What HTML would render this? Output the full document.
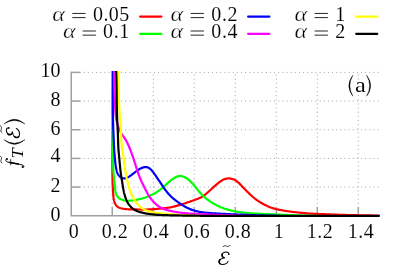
<!DOCTYPE html>
<html><head><meta charset="utf-8"><title>plot</title>
<style>html,body{margin:0;padding:0;background:#fff}body{width:407px;height:271px;position:relative;overflow:hidden;font-family:"Liberation Serif",serif}</style></head>
<body>
<svg width="407" height="271" viewBox="0 0 407 271" style="position:absolute;left:0;top:0;will-change:transform">
<g stroke="#a0a0a0" stroke-width="1" stroke-dasharray="1 3.14" fill="none"><line x1="71.24" y1="187.08" x2="379.31" y2="187.08"/><line x1="71.24" y1="158.41" x2="379.31" y2="158.41"/><line x1="71.24" y1="129.74" x2="379.31" y2="129.74"/><line x1="71.24" y1="101.07" x2="379.31" y2="101.07"/><line x1="71.24" y1="72.40" x2="379.31" y2="72.40"/><line x1="112.26" y1="216.25" x2="112.26" y2="71.90"/><line x1="153.27" y1="216.25" x2="153.27" y2="71.90"/><line x1="194.27" y1="216.25" x2="194.27" y2="71.90"/><line x1="235.28" y1="216.25" x2="235.28" y2="71.90"/><line x1="276.29" y1="216.25" x2="276.29" y2="71.90"/><line x1="317.30" y1="216.25" x2="317.30" y2="71.90"/><line x1="358.31" y1="216.25" x2="358.31" y2="71.90"/></g>
<g stroke="#a0a0a0" stroke-width="1.5" fill="none"><path d="M71.25 71.65 V215.75 H379.56"/><path d="M71.25 187.08 H80.40"/><path d="M71.25 158.41 H80.40"/><path d="M71.25 129.74 H80.40"/><path d="M71.25 101.07 H80.40"/><path d="M71.25 72.40 H80.40"/><path d="M112.26 215.75 V207.10"/><path d="M153.27 215.75 V207.10"/><path d="M194.27 215.75 V207.10"/><path d="M235.28 215.75 V207.10"/><path d="M276.29 215.75 V207.10"/><path d="M317.30 215.75 V207.10"/><path d="M358.31 215.75 V207.10"/></g>
<clipPath id="c"><rect x="60" y="71.10" width="330" height="160"/></clipPath>
<g clip-path="url(#c)" fill="none" stroke-width="2.20" stroke-linejoin="round" stroke-linecap="round"><path d="M113.00 70.00 L113.00 73.34 L112.99 76.58 L112.99 79.73 L112.98 82.79 L112.97 85.76 L112.96 88.66 L112.96 91.46 L112.94 94.19 L112.93 96.84 L112.92 99.41 L112.91 101.91 L112.90 104.34 L112.88 106.69 L112.87 108.98 L112.85 111.20 L112.84 113.36 L112.82 115.45 L112.80 117.49 L112.79 119.46 L112.77 121.38 L112.75 123.25 L112.74 125.06 L112.72 126.82 L112.70 128.54 L112.68 130.20 L112.67 131.83 L112.65 133.41 L112.63 134.95 L112.61 136.46 L112.60 137.93 L112.58 139.36 L112.56 140.76 L112.55 142.13 L112.53 143.48 L112.52 144.80 L112.50 146.09 L112.49 147.36 L112.48 148.62 L112.46 149.85 L112.45 151.07 L112.44 152.28 L112.43 153.47 L112.42 154.66 L112.41 155.83 L112.40 157.00 L112.40 158.17 L112.39 159.34 L112.39 160.50 L112.39 161.67 L112.38 162.85 L112.38 164.04 L112.38 165.24 L112.39 166.46 L112.39 167.70 L112.39 168.96 L112.40 170.26 L112.41 171.58 L112.42 172.93 L112.43 174.30 L112.45 175.69 L112.47 177.07 L112.49 178.46 L112.52 179.84 L112.55 181.22 L112.59 182.57 L112.64 183.90 L112.69 185.19 L112.75 186.46 L112.81 187.69 L112.88 188.89 L112.94 190.04 L113.01 191.15 L113.07 192.21 L113.14 193.21 L113.20 194.17 L113.27 195.09 L113.34 195.97 L113.43 196.83 L113.53 197.67 L113.65 198.50 L113.80 199.33 L113.97 200.16 L114.18 200.96 L114.41 201.75 L114.67 202.51 L114.97 203.25 L115.31 203.95 L115.69 204.61 L116.10 205.22 L116.56 205.79 L117.07 206.30 L117.62 206.75 L118.21 207.15 L118.84 207.50 L119.52 207.81 L120.22 208.07 L120.96 208.29 L121.72 208.49 L122.52 208.65 L123.33 208.79 L124.16 208.91 L125.02 209.01 L125.89 209.10 L126.77 209.17 L127.66 209.23 L128.57 209.28 L129.49 209.32 L130.42 209.35 L131.35 209.38 L132.29 209.40 L133.23 209.41 L134.18 209.43 L135.13 209.44 L136.08 209.45 L137.03 209.46 L137.98 209.48 L138.93 209.49 L139.88 209.50 L140.82 209.52 L141.77 209.53 L142.72 209.53 L143.67 209.54 L144.61 209.54 L145.56 209.53 L146.51 209.52 L147.47 209.50 L148.42 209.47 L149.38 209.43 L150.33 209.39 L151.29 209.34 L152.24 209.28 L153.19 209.22 L154.14 209.15 L155.08 209.08 L156.01 209.00 L156.94 208.92 L157.85 208.84 L158.76 208.76 L159.65 208.68 L160.53 208.60 L161.39 208.51 L162.24 208.43 L163.08 208.35 L163.90 208.27 L164.72 208.18 L165.54 208.09 L166.35 207.99 L167.16 207.88 L167.97 207.76 L168.79 207.63 L169.61 207.49 L170.44 207.34 L171.27 207.17 L172.12 206.99 L172.97 206.80 L173.83 206.60 L174.70 206.38 L175.57 206.16 L176.44 205.92 L177.32 205.68 L178.21 205.43 L179.10 205.16 L179.99 204.90 L180.88 204.62 L181.77 204.34 L182.66 204.06 L183.56 203.77 L184.45 203.47 L185.34 203.18 L186.23 202.88 L187.12 202.58 L188.00 202.27 L188.89 201.97 L189.76 201.67 L190.63 201.36 L191.50 201.06 L192.36 200.76 L193.22 200.47 L194.06 200.17 L194.90 199.88 L195.72 199.58 L196.53 199.28 L197.32 198.97 L198.10 198.66 L198.85 198.35 L199.59 198.02 L200.30 197.69 L200.99 197.34 L201.65 196.98 L202.29 196.61 L202.90 196.23 L203.49 195.84 L204.07 195.43 L204.63 195.01 L205.18 194.58 L205.73 194.14 L206.27 193.68 L206.81 193.22 L207.35 192.75 L207.90 192.26 L208.45 191.77 L209.00 191.27 L209.56 190.77 L210.12 190.26 L210.68 189.74 L211.24 189.22 L211.81 188.70 L212.38 188.17 L212.95 187.65 L213.53 187.13 L214.10 186.60 L214.68 186.08 L215.26 185.57 L215.83 185.05 L216.41 184.55 L217.00 184.05 L217.58 183.56 L218.16 183.08 L218.75 182.61 L219.34 182.16 L219.94 181.72 L220.54 181.31 L221.14 180.91 L221.75 180.54 L222.36 180.18 L222.98 179.86 L223.61 179.56 L224.24 179.30 L224.88 179.06 L225.52 178.86 L226.18 178.69 L226.84 178.57 L227.52 178.48 L228.20 178.43 L228.89 178.42 L229.60 178.46 L230.30 178.54 L231.01 178.66 L231.71 178.81 L232.41 179.01 L233.11 179.25 L233.79 179.52 L234.45 179.82 L235.10 180.16 L235.73 180.54 L236.33 180.94 L236.92 181.37 L237.50 181.83 L238.07 182.31 L238.62 182.81 L239.17 183.32 L239.71 183.85 L240.24 184.39 L240.78 184.94 L241.32 185.50 L241.86 186.06 L242.40 186.62 L242.94 187.18 L243.48 187.75 L244.03 188.32 L244.58 188.89 L245.12 189.46 L245.68 190.03 L246.23 190.59 L246.78 191.16 L247.34 191.72 L247.90 192.28 L248.46 192.83 L249.02 193.38 L249.58 193.93 L250.15 194.46 L250.71 194.99 L251.28 195.52 L251.85 196.03 L252.42 196.54 L253.00 197.03 L253.57 197.52 L254.15 197.99 L254.73 198.46 L255.31 198.91 L255.90 199.35 L256.49 199.79 L257.08 200.22 L257.67 200.63 L258.27 201.04 L258.87 201.44 L259.48 201.83 L260.09 202.21 L260.70 202.59 L261.32 202.96 L261.94 203.32 L262.57 203.67 L263.20 204.01 L263.84 204.35 L264.47 204.68 L265.11 205.00 L265.75 205.32 L266.39 205.62 L267.02 205.92 L267.65 206.20 L268.28 206.48 L268.90 206.74 L269.51 207.00 L270.13 207.24 L270.76 207.48 L271.41 207.72 L272.07 207.94 L272.75 208.16 L273.46 208.38 L274.21 208.59 L274.99 208.80 L275.81 209.01 L276.67 209.21 L277.56 209.41 L278.47 209.61 L279.41 209.80 L280.36 209.99 L281.33 210.17 L282.30 210.35 L283.27 210.52 L284.24 210.69 L285.20 210.85 L286.15 211.00 L287.09 211.14 L288.00 211.28 L288.90 211.40 L289.79 211.53 L290.68 211.64 L291.56 211.75 L292.45 211.86 L293.36 211.97 L294.28 212.07 L295.22 212.18 L296.19 212.28 L297.20 212.38 L298.24 212.49 L299.32 212.60 L300.46 212.71 L301.63 212.83 L302.83 212.94 L304.06 213.06 L305.30 213.17 L306.55 213.28 L307.80 213.39 L309.05 213.48 L310.27 213.57 L311.48 213.65 L312.67 213.72 L313.87 213.79 L315.07 213.85 L316.28 213.90 L317.51 213.96 L318.78 214.01 L320.08 214.06 L321.43 214.11 L322.82 214.16 L324.25 214.22 L325.70 214.27 L327.17 214.32 L328.66 214.38 L330.15 214.43 L331.65 214.48 L333.14 214.53 L334.61 214.58 L336.07 214.63 L337.50 214.68 L338.92 214.73 L340.32 214.77 L341.70 214.82 L343.07 214.86 L344.43 214.90 L345.78 214.94 L347.12 214.98 L348.45 215.02 L349.78 215.05 L351.10 215.09 L352.41 215.12 L353.71 215.15 L355.01 215.19 L356.30 215.21 L357.58 215.24 L358.85 215.27 L360.11 215.29 L361.36 215.32 L362.60 215.34 L363.84 215.36 L365.06 215.38 L366.27 215.40 L367.47 215.42 L368.66 215.44 L369.84 215.45 L371.00 215.47 L372.15 215.48 L373.29 215.50 L374.42 215.51 L375.53 215.52 L376.63 215.53 L377.72 215.54 L378.79 215.55 L378.79 215.55" stroke="#ff0000"/><path d="M112.95 70.00 L112.95 71.32 L112.95 72.66 L112.95 74.01 L112.94 75.37 L112.93 76.73 L112.92 78.10 L112.91 79.48 L112.89 80.86 L112.88 82.24 L112.86 83.62 L112.84 85.00 L112.82 86.37 L112.80 87.74 L112.78 89.10 L112.76 90.45 L112.74 91.80 L112.73 93.13 L112.71 94.45 L112.69 95.76 L112.67 97.05 L112.66 98.32 L112.64 99.57 L112.63 100.80 L112.62 102.01 L112.61 103.19 L112.60 104.35 L112.59 105.49 L112.59 106.61 L112.59 107.73 L112.59 108.85 L112.59 109.99 L112.59 111.15 L112.59 112.34 L112.59 113.58 L112.60 114.86 L112.60 116.21 L112.60 117.63 L112.60 119.13 L112.60 120.70 L112.60 122.33 L112.60 124.01 L112.59 125.73 L112.59 127.46 L112.59 129.20 L112.59 130.94 L112.59 132.66 L112.59 134.34 L112.59 135.98 L112.59 137.57 L112.59 139.08 L112.59 140.51 L112.60 141.84 L112.60 143.06 L112.61 144.16 L112.62 145.16 L112.63 146.08 L112.64 146.93 L112.65 147.73 L112.67 148.50 L112.68 149.26 L112.70 150.03 L112.72 150.81 L112.74 151.62 L112.76 152.45 L112.78 153.31 L112.80 154.21 L112.83 155.13 L112.85 156.09 L112.88 157.08 L112.90 158.11 L112.93 159.18 L112.95 160.27 L112.98 161.39 L113.01 162.52 L113.04 163.66 L113.08 164.79 L113.12 165.93 L113.16 167.04 L113.21 168.14 L113.26 169.20 L113.32 170.23 L113.38 171.22 L113.45 172.17 L113.53 173.11 L113.61 174.02 L113.69 174.93 L113.78 175.84 L113.87 176.75 L113.96 177.67 L114.06 178.62 L114.16 179.59 L114.26 180.57 L114.35 181.55 L114.45 182.53 L114.55 183.49 L114.65 184.42 L114.74 185.33 L114.82 186.19 L114.91 186.99 L114.98 187.75 L115.06 188.45 L115.13 189.11 L115.21 189.74 L115.29 190.34 L115.38 190.92 L115.49 191.49 L115.60 192.06 L115.74 192.61 L115.88 193.15 L116.05 193.68 L116.24 194.20 L116.44 194.70 L116.67 195.19 L116.92 195.66 L117.20 196.12 L117.50 196.56 L117.84 196.98 L118.20 197.38 L118.59 197.76 L119.02 198.12 L119.48 198.46 L119.97 198.77 L120.50 199.06 L121.06 199.33 L121.64 199.58 L122.24 199.80 L122.86 200.00 L123.48 200.18 L124.12 200.33 L124.76 200.46 L125.41 200.57 L126.04 200.66 L126.67 200.72 L127.29 200.76 L127.91 200.78 L128.52 200.78 L129.13 200.76 L129.76 200.72 L130.41 200.68 L131.09 200.62 L131.79 200.55 L132.51 200.47 L133.25 200.37 L134.01 200.27 L134.78 200.15 L135.57 200.02 L136.36 199.87 L137.16 199.71 L137.96 199.54 L138.77 199.36 L139.59 199.16 L140.40 198.95 L141.22 198.73 L142.04 198.50 L142.85 198.26 L143.67 198.00 L144.48 197.74 L145.29 197.47 L146.09 197.18 L146.89 196.89 L147.68 196.59 L148.46 196.28 L149.24 195.96 L150.00 195.64 L150.75 195.30 L151.49 194.96 L152.22 194.62 L152.93 194.26 L153.63 193.90 L154.30 193.54 L154.97 193.17 L155.61 192.79 L156.24 192.41 L156.85 192.03 L157.44 191.64 L158.03 191.25 L158.59 190.85 L159.15 190.45 L159.69 190.04 L160.23 189.63 L160.75 189.22 L161.27 188.80 L161.77 188.38 L162.28 187.96 L162.77 187.54 L163.26 187.11 L163.75 186.68 L164.23 186.25 L164.71 185.81 L165.19 185.38 L165.67 184.94 L166.15 184.50 L166.62 184.06 L167.10 183.62 L167.58 183.19 L168.06 182.75 L168.54 182.32 L169.03 181.90 L169.51 181.48 L170.00 181.07 L170.49 180.67 L170.98 180.27 L171.48 179.88 L171.98 179.51 L172.48 179.14 L172.98 178.79 L173.49 178.45 L174.01 178.13 L174.53 177.82 L175.05 177.53 L175.58 177.25 L176.11 177.00 L176.64 176.77 L177.18 176.56 L177.72 176.39 L178.26 176.24 L178.80 176.13 L179.34 176.05 L179.88 176.01 L180.42 176.01 L180.96 176.05 L181.50 176.12 L182.03 176.23 L182.56 176.37 L183.08 176.53 L183.60 176.72 L184.11 176.94 L184.62 177.17 L185.11 177.42 L185.60 177.69 L186.08 177.96 L186.55 178.25 L187.01 178.55 L187.46 178.86 L187.91 179.19 L188.35 179.52 L188.79 179.87 L189.22 180.23 L189.64 180.61 L190.07 180.99 L190.49 181.39 L190.90 181.81 L191.32 182.23 L191.74 182.67 L192.15 183.13 L192.57 183.59 L192.98 184.08 L193.40 184.57 L193.83 185.08 L194.25 185.60 L194.68 186.13 L195.11 186.67 L195.55 187.23 L195.99 187.78 L196.44 188.35 L196.90 188.92 L197.36 189.50 L197.84 190.08 L198.32 190.67 L198.81 191.25 L199.31 191.84 L199.82 192.43 L200.34 193.02 L200.87 193.60 L201.42 194.18 L201.98 194.76 L202.55 195.34 L203.13 195.90 L203.73 196.47 L204.35 197.02 L204.98 197.57 L205.62 198.11 L206.27 198.64 L206.94 199.16 L207.61 199.68 L208.30 200.18 L208.99 200.68 L209.70 201.17 L210.41 201.65 L211.13 202.12 L211.86 202.58 L212.60 203.03 L213.34 203.47 L214.09 203.90 L214.84 204.31 L215.59 204.72 L216.35 205.12 L217.11 205.50 L217.87 205.87 L218.63 206.23 L219.40 206.58 L220.16 206.92 L220.92 207.24 L221.69 207.55 L222.45 207.85 L223.21 208.14 L223.96 208.41 L224.72 208.67 L225.48 208.93 L226.23 209.17 L226.99 209.40 L227.74 209.62 L228.49 209.83 L229.24 210.03 L229.99 210.22 L230.74 210.41 L231.48 210.59 L232.23 210.75 L232.97 210.92 L233.72 211.07 L234.46 211.22 L235.20 211.36 L235.95 211.50 L236.69 211.63 L237.43 211.75 L238.17 211.87 L238.91 211.99 L239.64 212.10 L240.38 212.21 L241.12 212.31 L241.86 212.41 L242.60 212.51 L243.34 212.60 L244.09 212.69 L244.83 212.77 L245.58 212.85 L246.33 212.93 L247.08 213.00 L247.84 213.07 L248.60 213.14 L249.36 213.20 L250.13 213.26 L250.90 213.32 L251.68 213.37 L252.46 213.42 L253.25 213.47 L254.04 213.52 L254.84 213.56 L255.65 213.60 L256.48 213.64 L257.32 213.68 L258.18 213.72 L259.07 213.76 L259.99 213.80 L260.95 213.84 L261.94 213.88 L262.98 213.93 L264.06 213.98 L265.17 214.03 L266.32 214.08 L267.48 214.13 L268.66 214.18 L269.86 214.23 L271.06 214.28 L272.26 214.34 L273.46 214.39 L274.65 214.44 L275.82 214.49 L276.98 214.54 L278.13 214.59 L279.26 214.63 L280.39 214.68 L281.50 214.72 L282.61 214.77 L283.71 214.81 L284.81 214.86 L285.91 214.90 L287.01 214.94 L288.11 214.99 L289.21 215.03 L290.31 215.08 L291.41 215.12 L292.52 215.16 L293.62 215.21 L294.72 215.25 L295.82 215.29 L296.92 215.33 L298.02 215.37 L299.12 215.41 L300.21 215.45 L301.30 215.49 L302.39 215.52 L303.47 215.56 L304.55 215.59 L305.63 215.63 L306.70 215.66 L307.76 215.69 L308.82 215.72 L309.87 215.74 L310.92 215.77 L311.96 215.79 L312.99 215.81 L314.02 215.83 L315.04 215.85 L316.04 215.86 L317.05 215.88 L318.04 215.89 L319.02 215.90 L319.99 215.90 L319.99 215.90" stroke="#00ff00"/><path d="M112.75 70.00 L112.76 71.27 L112.77 72.56 L112.77 73.87 L112.78 75.20 L112.78 76.54 L112.79 77.90 L112.79 79.28 L112.79 80.67 L112.80 82.07 L112.80 83.48 L112.80 84.90 L112.80 86.33 L112.80 87.76 L112.80 89.20 L112.80 90.64 L112.80 92.08 L112.81 93.51 L112.81 94.95 L112.81 96.39 L112.81 97.82 L112.82 99.24 L112.82 100.65 L112.82 102.06 L112.83 103.46 L112.83 104.84 L112.84 106.21 L112.85 107.56 L112.86 108.90 L112.87 110.22 L112.88 111.52 L112.89 112.79 L112.91 114.05 L112.92 115.28 L112.94 116.49 L112.96 117.66 L112.98 118.81 L113.01 119.94 L113.03 121.03 L113.06 122.10 L113.09 123.14 L113.11 124.15 L113.14 125.15 L113.18 126.12 L113.21 127.06 L113.24 127.99 L113.27 128.89 L113.31 129.78 L113.34 130.64 L113.38 131.49 L113.41 132.32 L113.45 133.14 L113.48 133.94 L113.52 134.72 L113.55 135.49 L113.58 136.25 L113.62 137.00 L113.65 137.74 L113.68 138.47 L113.71 139.18 L113.74 139.89 L113.77 140.59 L113.80 141.29 L113.82 141.97 L113.85 142.65 L113.88 143.32 L113.91 143.99 L113.93 144.65 L113.96 145.30 L113.99 145.95 L114.02 146.59 L114.05 147.23 L114.09 147.86 L114.12 148.49 L114.16 149.12 L114.19 149.75 L114.23 150.37 L114.27 150.99 L114.32 151.61 L114.36 152.25 L114.41 152.90 L114.47 153.58 L114.53 154.28 L114.59 155.01 L114.65 155.77 L114.73 156.58 L114.80 157.43 L114.88 158.30 L114.97 159.19 L115.05 160.09 L115.15 161.00 L115.24 161.90 L115.34 162.79 L115.44 163.65 L115.54 164.48 L115.64 165.27 L115.74 166.01 L115.85 166.70 L115.95 167.34 L116.06 167.94 L116.17 168.51 L116.28 169.05 L116.39 169.56 L116.51 170.06 L116.62 170.54 L116.74 171.01 L116.87 171.48 L117.01 171.93 L117.16 172.37 L117.32 172.81 L117.50 173.24 L117.71 173.66 L117.93 174.07 L118.16 174.47 L118.42 174.86 L118.69 175.24 L118.97 175.60 L119.26 175.95 L119.57 176.28 L119.89 176.59 L120.22 176.88 L120.55 177.15 L120.90 177.40 L121.25 177.63 L121.60 177.83 L121.96 178.00 L122.32 178.15 L122.68 178.27 L123.05 178.36 L123.41 178.42 L123.78 178.45 L124.15 178.46 L124.51 178.45 L124.88 178.41 L125.26 178.35 L125.63 178.26 L126.00 178.16 L126.38 178.03 L126.75 177.89 L127.13 177.73 L127.51 177.55 L127.89 177.36 L128.27 177.15 L128.65 176.93 L129.03 176.69 L129.42 176.45 L129.80 176.19 L130.19 175.92 L130.57 175.65 L130.96 175.36 L131.35 175.07 L131.74 174.78 L132.13 174.47 L132.52 174.17 L132.91 173.86 L133.30 173.55 L133.69 173.24 L134.08 172.93 L134.48 172.62 L134.87 172.31 L135.27 172.01 L135.66 171.70 L136.06 171.41 L136.46 171.12 L136.85 170.83 L137.25 170.55 L137.65 170.28 L138.04 170.02 L138.44 169.76 L138.83 169.51 L139.23 169.27 L139.62 169.04 L140.01 168.82 L140.41 168.61 L140.80 168.41 L141.18 168.22 L141.57 168.05 L141.96 167.88 L142.34 167.73 L142.72 167.60 L143.10 167.48 L143.47 167.37 L143.85 167.28 L144.22 167.20 L144.59 167.14 L144.95 167.10 L145.31 167.07 L145.67 167.06 L146.03 167.07 L146.38 167.10 L146.72 167.15 L147.41 167.31 L147.74 167.42 L148.07 167.55 L148.40 167.70 L148.72 167.87 L149.04 168.06 L149.36 168.26 L149.67 168.48 L149.98 168.72 L150.28 168.98 L150.58 169.25 L150.88 169.53 L151.18 169.83 L151.48 170.14 L151.77 170.47 L152.06 170.80 L152.35 171.15 L152.64 171.50 L152.92 171.87 L153.21 172.25 L153.50 172.63 L153.79 173.03 L154.09 173.44 L154.39 173.85 L154.69 174.27 L154.99 174.70 L155.29 175.12 L155.59 175.54 L155.87 175.96 L156.15 176.37 L156.42 176.77 L156.69 177.18 L156.96 177.59 L157.25 178.03 L157.56 178.50 L157.91 179.00 L158.27 179.53 L158.65 180.08 L159.04 180.64 L159.43 181.21 L159.82 181.77 L160.19 182.31 L160.55 182.83 L160.87 183.32 L161.17 183.77 L161.44 184.19 L161.70 184.59 L161.96 184.99 L162.23 185.41 L162.52 185.86 L162.85 186.35 L163.20 186.87 L163.57 187.41 L163.96 187.98 L164.37 188.55 L164.79 189.14 L165.22 189.73 L165.65 190.30 L166.08 190.87 L166.50 191.42 L166.93 191.96 L167.35 192.48 L167.77 192.98 L168.19 193.48 L168.61 193.96 L169.04 194.42 L169.46 194.88 L169.88 195.32 L170.30 195.76 L170.73 196.18 L171.16 196.60 L171.59 197.01 L172.03 197.41 L172.46 197.81 L172.91 198.20 L173.36 198.58 L173.81 198.97 L174.28 199.35 L174.74 199.72 L175.22 200.10 L175.70 200.47 L176.19 200.84 L176.69 201.22 L177.20 201.59 L177.72 201.97 L178.25 202.35 L178.78 202.72 L179.32 203.10 L179.87 203.47 L180.43 203.84 L180.99 204.21 L181.56 204.57 L182.14 204.94 L182.72 205.29 L183.31 205.65 L183.90 206.00 L184.50 206.34 L185.10 206.68 L185.71 207.01 L186.32 207.33 L186.94 207.65 L187.56 207.95 L188.18 208.25 L188.81 208.54 L189.43 208.83 L190.07 209.10 L190.70 209.36 L191.33 209.61 L191.97 209.84 L192.61 210.07 L193.24 210.28 L193.88 210.48 L194.52 210.68 L195.16 210.86 L195.81 211.03 L196.45 211.19 L197.09 211.34 L197.74 211.48 L198.38 211.62 L199.03 211.74 L199.67 211.86 L200.32 211.97 L200.96 212.08 L201.61 212.17 L202.26 212.27 L202.91 212.35 L203.55 212.43 L204.20 212.51 L204.85 212.58 L205.49 212.65 L206.14 212.72 L206.79 212.78 L207.43 212.84 L208.08 212.89 L208.72 212.95 L209.37 213.00 L210.02 213.05 L210.66 213.10 L211.31 213.15 L211.97 213.20 L212.62 213.25 L213.29 213.30 L213.96 213.34 L214.63 213.39 L215.32 213.43 L216.01 213.47 L216.72 213.52 L217.43 213.56 L218.16 213.60 L218.90 213.64 L219.65 213.68 L220.42 213.72 L221.21 213.76 L222.01 213.80 L222.83 213.84 L223.67 213.89 L224.53 213.93 L225.40 213.97 L226.30 214.01 L227.23 214.05 L228.17 214.09 L229.14 214.14 L230.14 214.18 L231.16 214.23 L232.21 214.27 L233.29 214.32 L234.39 214.37 L235.51 214.41 L236.66 214.46 L237.82 214.51 L239.00 214.56 L240.19 214.61 L241.39 214.66 L242.60 214.71 L243.82 214.75 L245.04 214.80 L246.27 214.85 L247.49 214.90 L248.71 214.95 L249.92 214.99 L251.12 215.04 L252.32 215.08 L253.50 215.12 L254.67 215.17 L255.81 215.21 L256.94 215.25 L258.05 215.29 L259.13 215.32 L260.19 215.36 L261.22 215.39 L262.21 215.42 L263.17 215.45 L264.10 215.48 L264.98 215.50 L265.83 215.52 L266.65 215.54 L267.46 215.56 L268.28 215.58 L269.11 215.60 L269.98 215.62 L270.89 215.64 L271.88 215.67 L272.94 215.69 L274.10 215.72 L275.37 215.76 L276.77 215.80 L278.30 215.85 L280.00 215.90 L280.00 215.90" stroke="#0000ff"/><path d="M114.10 70.00 L114.09 70.55 L114.08 71.13 L114.08 71.72 L114.08 72.34 L114.08 72.98 L114.08 73.64 L114.08 74.32 L114.08 75.02 L114.09 75.74 L114.10 76.48 L114.11 77.23 L114.12 78.00 L114.14 78.79 L114.15 79.59 L114.17 80.40 L114.19 81.23 L114.21 82.07 L114.23 82.93 L114.25 83.79 L114.27 84.67 L114.30 85.55 L114.32 86.45 L114.35 87.35 L114.38 88.26 L114.41 89.18 L114.44 90.10 L114.47 91.03 L114.50 91.96 L114.54 92.90 L114.57 93.84 L114.60 94.78 L114.64 95.73 L114.67 96.67 L114.71 97.62 L114.75 98.57 L114.79 99.51 L114.82 100.45 L114.86 101.39 L114.90 102.33 L114.94 103.26 L114.98 104.19 L115.02 105.11 L115.06 106.02 L115.11 106.92 L115.15 107.81 L115.20 108.69 L115.25 109.55 L115.30 110.40 L115.35 111.23 L115.41 112.04 L115.47 112.83 L115.54 113.61 L115.60 114.35 L115.67 115.08 L115.75 115.78 L115.83 116.45 L115.91 117.09 L116.00 117.71 L116.10 118.29 L116.20 118.85 L116.30 119.38 L116.41 119.88 L116.52 120.37 L116.63 120.83 L116.75 121.29 L116.87 121.73 L116.99 122.17 L117.12 122.59 L117.24 123.02 L117.37 123.45 L117.50 123.88 L117.62 124.31 L117.75 124.74 L117.89 125.17 L118.02 125.60 L118.15 126.03 L118.29 126.46 L118.43 126.89 L118.57 127.31 L118.72 127.73 L118.86 128.15 L119.02 128.57 L119.17 128.98 L119.33 129.39 L119.49 129.79 L119.66 130.19 L119.83 130.58 L120.00 130.96 L120.18 131.34 L120.37 131.71 L120.56 132.07 L120.75 132.43 L120.95 132.78 L121.15 133.12 L121.36 133.45 L121.57 133.78 L121.78 134.11 L122.00 134.43 L122.21 134.74 L122.43 135.06 L122.65 135.37 L122.87 135.67 L123.09 135.98 L123.31 136.28 L123.53 136.58 L123.75 136.89 L123.96 137.19 L124.18 137.49 L124.39 137.80 L124.60 138.10 L124.80 138.41 L125.00 138.73 L125.20 139.04 L125.40 139.36 L125.60 139.68 L125.79 140.01 L125.99 140.35 L126.18 140.69 L126.38 141.04 L126.57 141.40 L126.76 141.77 L126.95 142.14 L127.15 142.52 L127.34 142.92 L127.54 143.32 L127.73 143.74 L127.93 144.17 L128.13 144.61 L128.34 145.07 L128.54 145.53 L128.75 146.01 L128.95 146.49 L129.16 146.98 L129.37 147.48 L129.57 147.98 L129.78 148.48 L129.98 148.98 L130.18 149.48 L130.38 149.98 L130.57 150.48 L130.76 150.97 L130.95 151.45 L131.13 151.93 L131.31 152.41 L131.49 152.88 L131.67 153.36 L131.84 153.84 L132.02 154.33 L132.20 154.82 L132.37 155.32 L132.55 155.83 L132.73 156.36 L132.91 156.90 L133.10 157.46 L133.29 158.03 L133.48 158.62 L133.68 159.23 L133.88 159.84 L134.08 160.47 L134.28 161.11 L134.49 161.76 L134.69 162.42 L134.90 163.09 L135.12 163.76 L135.33 164.44 L135.55 165.12 L135.76 165.81 L135.98 166.50 L136.20 167.19 L136.42 167.87 L136.65 168.56 L136.87 169.25 L137.09 169.93 L137.32 170.61 L137.54 171.28 L137.77 171.95 L138.00 172.61 L138.22 173.26 L138.45 173.90 L138.67 174.52 L138.90 175.14 L139.12 175.74 L139.35 176.33 L139.57 176.91 L139.79 177.47 L140.01 178.01 L140.23 178.53 L140.45 179.04 L140.67 179.53 L140.89 180.01 L141.11 180.48 L141.33 180.95 L141.55 181.41 L141.76 181.87 L141.98 182.32 L142.20 182.78 L142.42 183.24 L142.65 183.71 L142.87 184.18 L143.09 184.65 L143.32 185.13 L143.55 185.61 L143.77 186.09 L144.01 186.58 L144.24 187.07 L144.47 187.57 L144.71 188.06 L144.95 188.56 L145.20 189.05 L145.44 189.55 L145.69 190.05 L145.94 190.54 L146.20 191.04 L146.46 191.54 L146.72 192.03 L146.99 192.53 L147.26 193.02 L147.53 193.51 L147.81 193.99 L148.09 194.48 L148.38 194.96 L148.67 195.43 L148.97 195.90 L149.27 196.37 L149.58 196.83 L149.89 197.29 L150.20 197.74 L150.53 198.19 L150.85 198.63 L151.18 199.07 L151.52 199.50 L151.86 199.92 L152.20 200.34 L152.55 200.75 L152.91 201.15 L153.27 201.55 L153.63 201.94 L154.00 202.32 L154.37 202.70 L154.74 203.06 L155.12 203.42 L155.51 203.78 L155.89 204.12 L156.29 204.46 L156.68 204.78 L157.08 205.10 L157.49 205.41 L157.89 205.71 L158.31 206.01 L158.72 206.29 L159.14 206.56 L159.56 206.83 L159.98 207.08 L160.41 207.33 L160.84 207.56 L161.26 207.79 L161.69 208.01 L162.12 208.22 L162.55 208.43 L162.98 208.62 L163.40 208.81 L163.82 208.99 L164.24 209.16 L164.66 209.32 L165.08 209.47 L165.49 209.62 L165.89 209.76 L166.30 209.89 L166.69 210.01 L167.08 210.13 L167.47 210.24 L167.85 210.34 L168.22 210.44 L168.59 210.53 L168.96 210.62 L169.33 210.70 L169.71 210.78 L170.09 210.86 L170.48 210.94 L170.87 211.03 L171.28 211.11 L171.69 211.19 L172.11 211.28 L172.54 211.36 L172.98 211.45 L173.43 211.53 L173.88 211.61 L174.33 211.70 L174.79 211.78 L175.26 211.86 L175.73 211.95 L176.20 212.03 L176.68 212.10 L177.16 212.18 L177.64 212.26 L178.12 212.33 L178.60 212.40 L179.09 212.47 L179.58 212.54 L180.07 212.61 L180.56 212.68 L181.04 212.74 L181.53 212.80 L182.02 212.87 L182.51 212.92 L182.99 212.98 L183.48 213.03 L183.96 213.09 L184.44 213.14 L184.92 213.19 L185.39 213.23 L185.86 213.28 L186.33 213.32 L186.80 213.36 L187.26 213.39 L187.72 213.43 L188.18 213.46 L188.64 213.49 L189.11 213.52 L189.59 213.55 L190.07 213.58 L190.57 213.61 L191.08 213.64 L191.61 213.67 L192.15 213.70 L192.72 213.73 L193.30 213.77 L193.90 213.80 L194.52 213.84 L195.15 213.87 L195.81 213.91 L196.47 213.95 L197.16 213.98 L197.85 214.02 L198.56 214.06 L199.28 214.09 L200.02 214.13 L200.77 214.17 L201.52 214.21 L202.29 214.24 L203.07 214.28 L203.85 214.31 L204.65 214.35 L205.45 214.38 L206.26 214.42 L207.07 214.45 L207.89 214.48 L208.72 214.51 L209.55 214.55 L210.39 214.58 L211.23 214.61 L212.07 214.64 L212.92 214.67 L213.77 214.70 L214.62 214.73 L215.47 214.76 L216.32 214.79 L217.17 214.82 L218.03 214.85 L218.88 214.88 L219.73 214.90 L220.58 214.93 L221.43 214.96 L222.27 214.99 L223.11 215.02 L223.95 215.05 L224.78 215.08 L225.61 215.11 L226.43 215.14 L227.25 215.17 L228.06 215.20 L228.86 215.23 L229.66 215.26 L230.45 215.29 L231.23 215.32 L232.00 215.36 L232.76 215.39 L233.51 215.42 L234.25 215.46 L234.98 215.49 L235.69 215.53 L236.40 215.56 L237.10 215.60 L237.80 215.63 L238.50 215.66 L239.21 215.70 L239.91 215.73 L240.63 215.76 L241.36 215.79 L242.11 215.82 L242.87 215.84 L243.65 215.86 L244.46 215.88 L245.30 215.89 L246.16 215.90 L247.06 215.91 L248.00 215.91 L248.97 215.91 L249.99 215.90 L249.99 215.90" stroke="#ff00ff"/><path d="M118.10 69.99 L118.11 70.55 L118.12 71.14 L118.14 71.75 L118.15 72.40 L118.17 73.06 L118.18 73.76 L118.20 74.47 L118.22 75.21 L118.23 75.97 L118.25 76.75 L118.27 77.55 L118.29 78.37 L118.32 79.20 L118.34 80.05 L118.36 80.92 L118.38 81.80 L118.41 82.69 L118.44 83.60 L118.46 84.51 L118.49 85.44 L118.52 86.37 L118.55 87.31 L118.57 88.26 L118.60 89.22 L118.63 90.17 L118.67 91.14 L118.70 92.10 L118.73 93.06 L118.76 94.03 L118.80 95.00 L118.83 95.96 L118.87 96.92 L118.90 97.87 L118.94 98.83 L118.98 99.77 L119.01 100.71 L119.05 101.64 L119.09 102.56 L119.13 103.47 L119.17 104.37 L119.21 105.25 L119.25 106.12 L119.29 106.98 L119.33 107.82 L119.37 108.65 L119.41 109.46 L119.46 110.24 L119.50 111.01 L119.54 111.76 L119.59 112.49 L119.63 113.19 L119.68 113.87 L119.72 114.52 L119.77 115.15 L119.81 115.75 L119.86 116.32 L119.90 116.86 L119.95 117.37 L120.00 117.85 L120.05 118.30 L120.09 118.72 L120.14 119.12 L120.19 119.49 L120.23 119.85 L120.28 120.20 L120.37 120.88 L120.45 121.56 L120.49 121.91 L120.53 122.27 L120.56 122.65 L120.60 123.04 L120.63 123.45 L120.66 123.87 L120.69 124.30 L120.72 124.75 L120.74 125.21 L120.77 125.68 L120.79 126.17 L120.81 126.66 L120.83 127.16 L120.85 127.67 L120.87 128.19 L120.89 128.72 L120.91 129.26 L120.93 129.80 L120.95 130.35 L120.96 130.90 L120.98 131.46 L121.00 132.02 L121.02 132.59 L121.03 133.15 L121.05 133.72 L121.07 134.30 L121.09 134.87 L121.11 135.44 L121.13 136.01 L121.15 136.58 L121.17 137.15 L121.20 137.72 L121.22 138.28 L121.25 138.84 L121.27 139.40 L121.30 139.95 L121.33 140.50 L121.36 141.04 L121.40 141.57 L121.43 142.09 L121.47 142.61 L121.51 143.12 L121.55 143.62 L121.59 144.12 L121.64 144.60 L121.68 145.08 L121.73 145.56 L121.78 146.02 L121.83 146.48 L121.88 146.93 L121.94 147.38 L121.99 147.82 L122.05 148.25 L122.11 148.68 L122.17 149.10 L122.23 149.51 L122.29 149.92 L122.35 150.32 L122.42 150.72 L122.48 151.12 L122.55 151.52 L122.62 151.91 L122.69 152.31 L122.75 152.71 L122.82 153.12 L122.89 153.53 L122.96 153.95 L123.03 154.37 L123.10 154.81 L123.17 155.26 L123.24 155.73 L123.32 156.21 L123.39 156.70 L123.46 157.21 L123.53 157.73 L123.60 158.27 L123.67 158.81 L123.74 159.37 L123.81 159.94 L123.88 160.51 L123.96 161.09 L124.03 161.68 L124.10 162.27 L124.18 162.87 L124.25 163.47 L124.33 164.07 L124.41 164.68 L124.49 165.28 L124.57 165.88 L124.65 166.48 L124.73 167.08 L124.81 167.67 L124.90 168.26 L124.99 168.84 L125.07 169.41 L125.16 169.98 L125.25 170.54 L125.35 171.09 L125.44 171.64 L125.54 172.19 L125.63 172.72 L125.73 173.25 L125.83 173.78 L125.93 174.29 L126.03 174.80 L126.13 175.31 L126.23 175.81 L126.33 176.30 L126.43 176.79 L126.53 177.27 L126.64 177.74 L126.74 178.21 L126.84 178.67 L126.95 179.13 L127.05 179.58 L127.15 180.03 L127.26 180.46 L127.36 180.90 L127.46 181.32 L127.56 181.75 L127.66 182.16 L127.76 182.57 L127.86 182.98 L127.96 183.38 L128.05 183.77 L128.15 184.16 L128.24 184.54 L128.33 184.92 L128.42 185.29 L128.51 185.66 L128.60 186.03 L128.69 186.39 L128.78 186.75 L128.87 187.11 L128.96 187.47 L129.06 187.83 L129.15 188.19 L129.26 188.55 L129.37 188.92 L129.48 189.29 L129.60 189.67 L129.73 190.05 L129.86 190.44 L130.00 190.83 L130.15 191.22 L130.30 191.62 L130.45 192.02 L130.61 192.42 L130.78 192.82 L130.95 193.23 L131.13 193.63 L131.31 194.04 L131.49 194.44 L131.68 194.85 L131.87 195.25 L132.06 195.65 L132.26 196.05 L132.46 196.44 L132.66 196.83 L132.86 197.22 L133.07 197.60 L133.28 197.98 L133.49 198.36 L133.71 198.73 L133.93 199.10 L134.15 199.47 L134.37 199.83 L134.59 200.18 L134.82 200.54 L135.06 200.89 L135.29 201.23 L135.53 201.57 L135.77 201.91 L136.01 202.24 L136.26 202.57 L136.51 202.89 L136.76 203.21 L137.02 203.53 L137.28 203.83 L137.54 204.14 L137.81 204.44 L138.08 204.73 L138.35 205.02 L138.62 205.31 L138.90 205.59 L139.19 205.86 L139.47 206.13 L139.76 206.39 L140.05 206.65 L140.35 206.91 L140.65 207.15 L140.95 207.39 L141.26 207.63 L141.57 207.86 L141.89 208.09 L142.20 208.30 L142.53 208.52 L142.85 208.72 L143.18 208.93 L143.51 209.12 L143.85 209.31 L144.19 209.49 L144.54 209.67 L144.88 209.84 L145.23 210.00 L145.59 210.16 L145.95 210.32 L146.31 210.46 L146.67 210.61 L147.04 210.75 L147.41 210.88 L147.78 211.01 L148.16 211.13 L148.54 211.25 L148.92 211.37 L149.30 211.48 L149.69 211.58 L150.08 211.68 L150.47 211.78 L150.86 211.88 L151.25 211.97 L151.65 212.06 L152.05 212.14 L152.45 212.22 L152.85 212.30 L153.25 212.38 L153.65 212.45 L154.06 212.52 L154.47 212.59 L154.87 212.65 L155.28 212.71 L155.69 212.77 L156.10 212.83 L156.51 212.89 L156.92 212.94 L157.34 213.00 L157.75 213.05 L158.16 213.10 L158.58 213.15 L158.99 213.20 L159.40 213.24 L159.82 213.29 L160.23 213.33 L160.65 213.38 L161.06 213.42 L161.47 213.47 L161.88 213.51 L162.30 213.55 L162.71 213.60 L163.12 213.64 L163.53 213.68 L163.95 213.72 L164.36 213.76 L164.77 213.80 L165.19 213.84 L165.60 213.88 L166.01 213.92 L166.43 213.96 L166.84 214.00 L167.26 214.04 L167.68 214.08 L168.09 214.12 L168.51 214.15 L168.93 214.19 L169.35 214.23 L169.77 214.26 L170.20 214.30 L170.62 214.34 L171.04 214.37 L171.47 214.41 L171.90 214.44 L172.33 214.47 L172.76 214.51 L173.19 214.54 L173.62 214.57 L174.06 214.61 L174.50 214.64 L174.93 214.67 L175.38 214.70 L175.82 214.73 L176.26 214.77 L176.71 214.80 L177.16 214.83 L177.61 214.86 L178.07 214.89 L178.52 214.91 L178.98 214.94 L179.44 214.97 L179.91 215.00 L180.38 215.03 L180.85 215.06 L181.32 215.08 L181.79 215.11 L182.27 215.14 L182.75 215.16 L183.24 215.19 L183.73 215.21 L184.22 215.24 L184.71 215.26 L185.21 215.29 L185.71 215.31 L186.21 215.34 L186.72 215.36 L187.23 215.38 L187.75 215.40 L188.27 215.43 L188.79 215.45 L189.32 215.47 L189.85 215.49 L190.38 215.51 L190.92 215.53 L191.46 215.55 L192.01 215.57 L192.56 215.59 L193.12 215.61 L193.68 215.63 L194.24 215.65 L194.81 215.67 L195.39 215.69 L195.97 215.71 L196.55 215.72 L197.14 215.74 L197.73 215.76 L198.33 215.78 L198.93 215.79 L199.54 215.81 L200.16 215.82 L200.78 215.84 L201.40 215.86 L202.03 215.87 L202.03 215.87" stroke="#ffff00"/><path d="M116.10 70.00 L116.15 70.95 L116.19 71.92 L116.23 72.90 L116.27 73.89 L116.30 74.88 L116.34 75.89 L116.37 76.91 L116.40 77.94 L116.43 78.97 L116.45 80.01 L116.48 81.06 L116.50 82.11 L116.52 83.17 L116.54 84.23 L116.56 85.29 L116.58 86.36 L116.60 87.44 L116.61 88.51 L116.63 89.59 L116.64 90.66 L116.66 91.74 L116.67 92.82 L116.68 93.89 L116.70 94.97 L116.71 96.04 L116.72 97.11 L116.73 98.18 L116.74 99.24 L116.76 100.30 L116.77 101.35 L116.78 102.39 L116.80 103.43 L116.81 104.47 L116.82 105.49 L116.84 106.51 L116.85 107.52 L116.87 108.52 L116.89 109.50 L116.91 110.48 L116.93 111.45 L116.95 112.40 L116.97 113.35 L117.00 114.27 L117.02 115.19 L117.05 116.09 L117.08 116.97 L117.11 117.84 L117.14 118.70 L117.18 119.54 L117.21 120.36 L117.25 121.17 L117.29 121.97 L117.33 122.75 L117.37 123.52 L117.41 124.29 L117.45 125.04 L117.49 125.78 L117.53 126.52 L117.57 127.25 L117.61 127.97 L117.65 128.69 L117.69 129.40 L117.72 130.11 L117.76 130.81 L117.79 131.51 L117.82 132.22 L117.85 132.91 L117.87 133.61 L117.90 134.30 L117.92 135.00 L117.95 135.68 L117.97 136.37 L117.99 137.04 L118.01 137.72 L118.03 138.39 L118.05 139.06 L118.07 139.72 L118.09 140.37 L118.10 141.02 L118.12 141.66 L118.14 142.30 L118.16 142.93 L118.18 143.55 L118.20 144.16 L118.23 144.77 L118.25 145.37 L118.27 145.96 L118.30 146.54 L118.33 147.12 L118.35 147.68 L118.38 148.24 L118.42 148.78 L118.45 149.32 L118.49 149.84 L118.53 150.36 L118.57 150.87 L118.61 151.37 L118.66 151.88 L118.71 152.39 L118.76 152.90 L118.81 153.43 L118.86 153.97 L118.92 154.54 L118.98 155.12 L119.04 155.73 L119.10 156.37 L119.16 157.04 L119.22 157.74 L119.29 158.47 L119.36 159.22 L119.43 159.99 L119.50 160.79 L119.57 161.60 L119.65 162.42 L119.72 163.26 L119.80 164.11 L119.88 164.96 L119.97 165.82 L120.05 166.68 L120.14 167.55 L120.23 168.41 L120.33 169.26 L120.42 170.11 L120.52 170.95 L120.62 171.77 L120.73 172.58 L120.83 173.38 L120.94 174.16 L121.05 174.92 L121.16 175.67 L121.27 176.41 L121.39 177.13 L121.50 177.83 L121.61 178.52 L121.72 179.20 L121.83 179.86 L121.93 180.51 L122.04 181.14 L122.14 181.76 L122.24 182.37 L122.34 182.96 L122.43 183.53 L122.52 184.10 L122.60 184.64 L122.69 185.18 L122.77 185.71 L122.85 186.22 L122.93 186.72 L123.01 187.22 L123.08 187.70 L123.16 188.18 L123.24 188.65 L123.32 189.11 L123.41 189.56 L123.49 190.01 L123.58 190.45 L123.67 190.89 L123.76 191.32 L123.86 191.75 L123.95 192.18 L124.05 192.60 L124.16 193.02 L124.26 193.44 L124.37 193.85 L124.48 194.26 L124.60 194.68 L124.72 195.09 L124.84 195.50 L124.97 195.92 L125.10 196.33 L125.23 196.75 L125.37 197.17 L125.51 197.59 L125.66 198.02 L125.81 198.44 L125.97 198.87 L126.13 199.30 L126.30 199.74 L126.48 200.17 L126.67 200.61 L126.86 201.04 L127.07 201.47 L127.29 201.91 L127.52 202.34 L127.77 202.77 L128.03 203.19 L128.30 203.62 L128.58 204.04 L128.88 204.45 L129.18 204.86 L129.50 205.27 L129.83 205.67 L130.17 206.06 L130.52 206.45 L130.88 206.82 L131.25 207.19 L131.63 207.55 L132.02 207.90 L132.41 208.24 L132.82 208.57 L133.23 208.89 L133.65 209.20 L134.07 209.50 L134.50 209.78 L134.94 210.05 L135.39 210.30 L135.84 210.54 L136.29 210.77 L136.75 210.97 L137.22 211.17 L137.68 211.35 L138.15 211.52 L138.61 211.68 L139.07 211.82 L139.53 211.96 L139.99 212.09 L140.43 212.21 L140.87 212.33 L141.30 212.44 L141.71 212.54 L142.12 212.64 L142.51 212.74 L142.90 212.84 L143.29 212.93 L143.67 213.02 L144.04 213.10 L144.42 213.18 L144.80 213.26 L145.18 213.34 L145.56 213.42 L145.95 213.49 L146.35 213.56 L146.75 213.63 L147.17 213.70 L147.59 213.77 L148.03 213.84 L148.49 213.90 L148.96 213.97 L149.45 214.03 L149.96 214.10 L150.48 214.16 L151.01 214.22 L151.55 214.28 L152.11 214.34 L152.67 214.40 L153.24 214.46 L153.82 214.51 L154.40 214.56 L154.99 214.61 L155.58 214.66 L156.17 214.71 L156.75 214.75 L157.34 214.79 L157.93 214.83 L158.52 214.87 L159.11 214.90 L159.71 214.93 L160.30 214.96 L160.89 214.99 L161.49 215.02 L162.09 215.05 L162.69 215.07 L163.29 215.09 L163.89 215.11 L164.50 215.13 L165.11 215.15 L165.72 215.17 L166.34 215.19 L166.96 215.21 L167.58 215.22 L168.21 215.24 L168.84 215.25 L169.47 215.27 L170.11 215.28 L170.76 215.29 L171.41 215.31 L172.06 215.32 L172.72 215.33 L173.38 215.35 L174.05 215.36 L174.73 215.38 L175.41 215.39 L176.09 215.40 L176.78 215.42 L177.48 215.43 L178.18 215.45 L178.88 215.46 L179.59 215.48 L180.30 215.49 L181.02 215.51 L181.74 215.52 L182.47 215.53 L183.20 215.55 L183.94 215.56 L184.67 215.57 L185.42 215.59 L186.16 215.60 L186.91 215.61 L187.67 215.62 L188.43 215.64 L189.20 215.65 L189.97 215.66 L190.76 215.67 L191.55 215.68 L192.34 215.69 L193.15 215.70 L193.97 215.71 L194.79 215.72 L195.63 215.73 L196.47 215.74 L197.33 215.75 L198.20 215.75 L199.08 215.76 L199.98 215.77 L200.89 215.78 L201.81 215.78 L202.75 215.79 L203.70 215.80 L204.67 215.80 L205.65 215.81 L206.65 215.82 L207.67 215.82 L208.70 215.83 L209.76 215.83 L210.83 215.84 L211.92 215.84 L213.03 215.85 L214.16 215.85 L215.31 215.86 L216.49 215.86 L217.68 215.87 L218.90 215.87 L220.14 215.87 L221.40 215.88 L222.69 215.88 L224.00 215.88 L225.34 215.89 L226.70 215.89 L228.09 215.89 L229.51 215.89 L230.95 215.90 L232.42 215.90 L233.92 215.90 L235.44 215.90 L237.00 215.90 L238.58 215.90 L240.20 215.91 L241.85 215.91 L243.52 215.91 L245.23 215.91 L246.97 215.91 L248.75 215.91 L250.56 215.91 L252.40 215.91 L254.27 215.91 L256.18 215.91 L258.13 215.91 L260.11 215.91 L262.13 215.91 L264.19 215.91 L266.28 215.91 L268.41 215.91 L270.58 215.91 L272.79 215.91 L275.04 215.91 L277.33 215.91 L279.66 215.91 L282.03 215.91 L284.44 215.91 L286.90 215.91 L289.39 215.91 L291.93 215.91 L294.52 215.91 L297.15 215.91 L299.82 215.91 L302.54 215.91 L305.30 215.91 L308.11 215.91 L310.97 215.91 L313.88 215.91 L316.83 215.91 L319.83 215.91 L322.89 215.90 L325.99 215.90 L329.14 215.90 L332.34 215.90 L335.59 215.90 L338.90 215.90 L342.25 215.90 L345.66 215.90 L349.12 215.90 L352.64 215.90 L356.21 215.90 L359.83 215.90 L363.51 215.90 L367.25 215.90 L371.04 215.90 L374.89 215.90 L378.80 215.90 L378.80 215.90" stroke="#000000"/></g>
<line x1="140.10" y1="16.55" x2="161.40" y2="16.55" stroke="#ff0000" stroke-width="2.20" stroke-linecap="round"/>
<line x1="140.10" y1="33.85" x2="161.40" y2="33.85" stroke="#00ff00" stroke-width="2.20" stroke-linecap="round"/>
<line x1="248.10" y1="16.55" x2="269.40" y2="16.55" stroke="#0000ff" stroke-width="2.20" stroke-linecap="round"/>
<line x1="248.10" y1="33.85" x2="269.40" y2="33.85" stroke="#ff00ff" stroke-width="2.20" stroke-linecap="round"/>
<line x1="356.20" y1="16.55" x2="377.30" y2="16.55" stroke="#ffff00" stroke-width="2.20" stroke-linecap="round"/>
<line x1="356.20" y1="33.85" x2="377.30" y2="33.85" stroke="#000000" stroke-width="2.20" stroke-linecap="round"/>
<g font-family="'Liberation Serif', serif" font-size="20.00" fill="#000" stroke="#fff" stroke-width="0.08"><text transform="translate(60.60 221.15) scale(1 1.060)" text-anchor="end">0</text><text transform="translate(60.60 192.28) scale(1 1.060)" text-anchor="end">2</text><text transform="translate(60.60 162.41) scale(1 1.060)" text-anchor="end">4</text><text transform="translate(60.60 135.04) scale(1 1.060)" text-anchor="end">6</text><text transform="translate(60.60 106.37) scale(1 1.060)" text-anchor="end">8</text><text transform="translate(60.60 76.70) scale(1 1.060)" text-anchor="end" textLength="20.00" lengthAdjust="spacing">10</text><text transform="translate(73.75 237.80) scale(1 1.060)" text-anchor="middle">0</text><text transform="translate(114.76 237.80) scale(1 1.060)" text-anchor="middle" textLength="26.00" lengthAdjust="spacing">0.2</text><text transform="translate(155.77 237.80) scale(1 1.060)" text-anchor="middle" textLength="26.00" lengthAdjust="spacing">0.4</text><text transform="translate(196.77 237.80) scale(1 1.060)" text-anchor="middle" textLength="26.00" lengthAdjust="spacing">0.6</text><text transform="translate(237.78 237.80) scale(1 1.060)" text-anchor="middle" textLength="26.00" lengthAdjust="spacing">0.8</text><text transform="translate(278.79 237.80) scale(1 1.060)" text-anchor="middle">1</text><text transform="translate(319.80 237.80) scale(1 1.060)" text-anchor="middle" textLength="26.00" lengthAdjust="spacing">1.2</text><text transform="translate(360.81 237.80) scale(1 1.060)" text-anchor="middle" textLength="26.00" lengthAdjust="spacing">1.4</text><text transform="translate(360.5 91.7) scale(1.22 1)" text-anchor="middle">a</text><path d="M352.9 75.2 Q344.7 85.7 352.9 96.2 Q346.9 85.7 352.9 75.2 Z M366.6 75.2 Q374.8 85.7 366.6 96.2 Q372.6 85.7 366.6 75.2 Z" stroke="#000" stroke-width="0.35" stroke-linejoin="round"/><text transform="translate(52.30 21.15) scale(1.15 1)" font-style="italic" font-size="21" stroke="#fff" stroke-width="0.3">α</text><path d="M72.30 13.45h13.3M72.30 17.60h13.3" stroke="#000" stroke-width="0.85" fill="none"/><text transform="translate(129.30 21.20) scale(1 1.040)" text-anchor="end" textLength="36.30" lengthAdjust="spacing">0.05</text><text transform="translate(63.10 38.35) scale(1.15 1)" font-style="italic" font-size="21" stroke="#fff" stroke-width="0.3">α</text><path d="M82.60 31.00h13.3M82.60 35.15h13.3" stroke="#000" stroke-width="0.85" fill="none"/><text transform="translate(129.30 38.35) scale(1 1.040)" text-anchor="end" textLength="26.20" lengthAdjust="spacing">0.1</text><text transform="translate(170.60 21.15) scale(1.15 1)" font-style="italic" font-size="21" stroke="#fff" stroke-width="0.3">α</text><path d="M190.60 13.45h13.3M190.60 17.60h13.3" stroke="#000" stroke-width="0.85" fill="none"/><text transform="translate(237.50 21.20) scale(1 1.040)" text-anchor="end" textLength="26.20" lengthAdjust="spacing">0.2</text><text transform="translate(170.60 38.35) scale(1.15 1)" font-style="italic" font-size="21" stroke="#fff" stroke-width="0.3">α</text><path d="M190.60 31.00h13.3M190.60 35.15h13.3" stroke="#000" stroke-width="0.85" fill="none"/><text transform="translate(237.50 38.35) scale(1 1.040)" text-anchor="end" textLength="26.20" lengthAdjust="spacing">0.4</text><text transform="translate(294.60 21.15) scale(1.15 1)" font-style="italic" font-size="21" stroke="#fff" stroke-width="0.3">α</text><path d="M314.60 13.45h13.3M314.60 17.60h13.3" stroke="#000" stroke-width="0.85" fill="none"/><text transform="translate(345.20 21.20) scale(1 1.040)" text-anchor="end">1</text><text transform="translate(294.60 38.35) scale(1.15 1)" font-style="italic" font-size="21" stroke="#fff" stroke-width="0.3">α</text><path d="M314.60 31.00h13.3M314.60 35.15h13.3" stroke="#000" stroke-width="0.85" fill="none"/><text transform="translate(345.20 38.35) scale(1 1.040)" text-anchor="end">2</text></g>
<g fill="none" stroke="#000" stroke-linecap="round"><path transform="translate(218.3 251.5) scale(1 0.95)" d="M10.6 3.0 C10.8 1.4 9.6 0.5 8.0 0.5 C5.6 0.5 3.6 2.0 3.6 3.9 C3.6 5.5 5.0 6.4 6.8 6.5 C3.6 6.8 0.8 8.6 0.8 11.0 C0.8 12.8 2.3 13.6 4.3 13.6 C6.8 13.6 9.0 12.2 9.8 10.4" stroke-width="1.05"/><path transform="translate(218.3 251.5) scale(1 0.95)" d="M4.1 2.3 C3.5 3.3 3.5 4.5 4.3 5.4 M1.7 8.5 C0.7 9.7 0.6 11.3 1.5 12.5" stroke-width="1.6"/><path transform="translate(223.0 245.3)" d="M0 1.5 C0.9 0.3 2.1 0.2 3.4 0.8 C4.7 1.4 5.9 1.3 6.8 0.1" stroke-width="0.8"/></g><circle cx="228.7" cy="254.3" r="0.75"/>
<g transform="translate(20.3 168.5) rotate(-90)"><g font-family="'Liberation Serif', serif" fill="#000"><g fill="none" stroke="#000" stroke-linecap="round" stroke-linejoin="round"><path d="M9.7 -13.7 C9.2 -14.9 7.6 -15.0 6.9 -13.6 C6.3 -12.4 5.9 -10 5.5 -8 L4.2 -1 C3.8 1.2 3.4 3.3 2.3 3.6 C1.5 3.8 1.0 3.1 1.3 2.3" stroke-width="1.0"/><path d="M6.0 -10.5 L4.4 -2" stroke-width="1.5"/><path d="M3.6 -9.6 H9.0" stroke-width="0.8"/></g><circle cx="9.5" cy="-13.3" r="0.95"/><circle cx="1.5" cy="2.3" r="0.95"/><text transform="translate(10.0 2.6) scale(1.1 0.97)" font-style="italic" font-size="16.5">T</text><path d="M28.9 -16.5 Q19.3 -5.85 28.9 4.8 Q21.6 -5.85 28.9 -16.5 Z M44.4 -16.5 Q54.0 -5.85 44.4 4.8 Q51.7 -5.85 44.4 -16.5 Z" stroke="#000" stroke-width="0.35" stroke-linejoin="round"/></g><g fill="none" stroke="#000" stroke-linecap="round"><path transform="translate(30.2 -14.4)" d="M10.6 3.0 C10.8 1.4 9.6 0.5 8.0 0.5 C5.6 0.5 3.6 2.0 3.6 3.9 C3.6 5.5 5.0 6.4 6.8 6.5 C3.6 6.8 0.8 8.6 0.8 11.0 C0.8 12.8 2.3 13.6 4.3 13.6 C6.8 13.6 9.0 12.2 9.8 10.4" stroke-width="1.05"/><path transform="translate(30.2 -14.4)" d="M4.1 2.3 C3.5 3.3 3.5 4.5 4.3 5.4 M1.7 8.5 C0.7 9.7 0.6 11.3 1.5 12.5" stroke-width="1.6"/><path transform="translate(35.8 -19.9)" d="M0 1.5 C0.9 0.3 2.1 0.2 3.4 0.8 C4.7 1.4 5.9 1.3 6.8 0.1" stroke-width="0.8"/><path transform="translate(5.4 -19.9)" d="M0 1.5 C0.9 0.3 2.1 0.2 3.4 0.8 C4.7 1.4 5.9 1.3 6.8 0.1" stroke-width="0.8"/></g><circle cx="40.5" cy="-11.5" r="0.85"/></g>
</svg>
</body></html>
